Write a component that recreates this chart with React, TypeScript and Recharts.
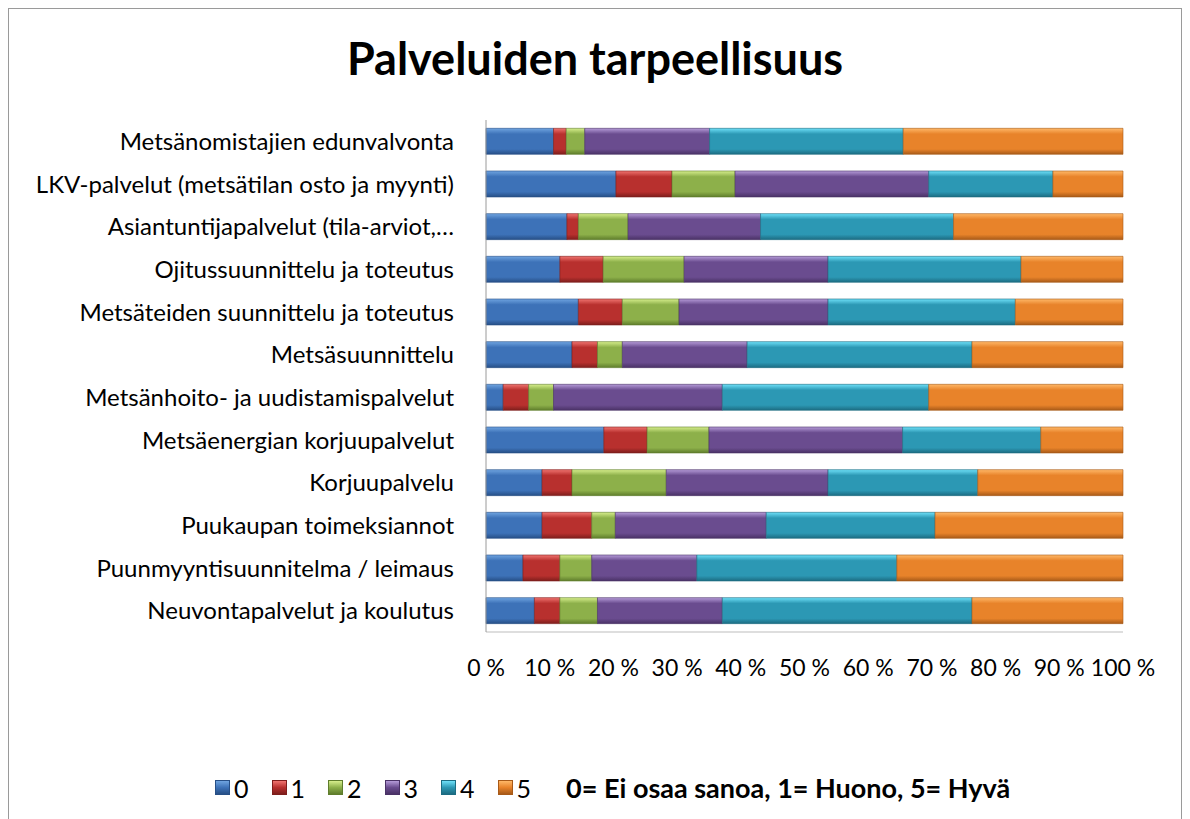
import React from "react";
import { BarChart, Bar, XAxis, YAxis } from "recharts";

// rows top to bottom
const categories = [
  "Metsänomistajien edunvalvonta",
  "LKV-palvelut (metsätilan osto ja myynti)",
  "Asiantuntijapalvelut (tila-arviot,…",
  "Ojitussuunnittelu ja toteutus",
  "Metsäteiden suunnittelu ja toteutus",
  "Metsäsuunnittelu",
  "Metsänhoito- ja uudistamispalvelut",
  "Metsäenergian korjuupalvelut",
  "Korjuupalvelu",
  "Puukaupan toimeksiannot",
  "Puunmyyntisuunnitelma / leimaus",
  "Neuvontapalvelut ja koulutus",
];

const score0 = [10.6, 20.4, 12.7, 11.6, 14.5, 13.5, 2.7, 18.5, 8.8, 8.8, 5.8, 7.6];
const score1 = [2.0, 8.8, 1.8, 6.8, 6.9, 4.0, 4.0, 6.8, 4.7, 7.8, 5.8, 4.0];
const score2 = [2.9, 9.9, 7.8, 12.7, 8.9, 3.9, 3.9, 9.7, 14.8, 3.7, 5.0, 5.9];
const score3 = [19.6, 30.4, 20.8, 22.6, 23.4, 19.6, 26.5, 30.4, 25.4, 23.7, 16.5, 19.6];
const score4 = [30.4, 19.5, 30.3, 30.3, 29.4, 35.3, 32.4, 21.7, 23.5, 26.5, 31.4, 39.2];
const score5 = [34.5, 11.0, 26.6, 16.0, 16.9, 23.7, 30.5, 12.9, 22.8, 29.5, 35.5, 23.7];

const seriesNames = ["0", "1", "2", "3", "4", "5"];
const xTicks = [0, 0.1, 0.2, 0.3, 0.4, 0.5, 0.6, 0.7, 0.8, 0.9, 1];

const palette = [
  { light: "#6FA4E0", mid: "#3D72B8", dark: "#274F86" },
  { light: "#F07470", mid: "#B8302E", dark: "#7E1E1C" },
  { light: "#D6EE8C", mid: "#8DB04A", dark: "#5F7D2C" },
  { light: "#B59BD8", mid: "#6A4C8F", dark: "#4A3266" },
  { light: "#6EE0F8", mid: "#2C98B4", dark: "#1C6C82" },
  { light: "#FFB868", mid: "#E8832A", dark: "#A85A18" },
];

const allScores = [score0, score1, score2, score3, score4, score5];

const data = categories.map((name, i) => {
  const row: Record<string, string | number> = { name };
  seriesNames.forEach((k, j) => {
    row[k] = allScores[j][i];
  });
  return row;
});

const FONT = "Lato, 'Open Sans', sans-serif";

function LegendBox() {
  return (
    <div
      style={{
        position: "absolute",
        left: 206,
        top: 762,
        display: "flex",
        alignItems: "center",
        fontFamily: FONT,
        fontSize: 25,
        color: "#000",
        whiteSpace: "nowrap",
      }}
    >
      {seriesNames.map((k, j) => (
        <div key={k} style={{ display: "flex", alignItems: "center", marginRight: 23 }}>
          <div
            style={{
              width: 13,
              height: 13,
              marginRight: 4,
              background: `linear-gradient(${palette[j].light}, ${palette[j].mid} 50%, ${palette[j].dark})`,
              border: `1px solid ${palette[j].dark}`,
            }}
          />
          <span>{k}</span>
        </div>
      ))}
      <span style={{ fontWeight: 700, fontSize: 27, marginLeft: 12 }}>
        0= Ei osaa sanoa, 1= Huono, 5= Hyvä
      </span>
    </div>
  );
}

export default function App() {
  return (
    <div
      style={{
        position: "relative",
        width: 1174,
        height: 830,
        border: "1px solid #9a9a9a",
        boxSizing: "border-box",
        background: "#fff",
      }}
    >
      <div
        style={{
          position: "absolute",
          top: 22,
          left: 0,
          width: "100%",
          textAlign: "center",
          fontFamily: FONT,
          fontWeight: 700,
          fontSize: 45,
          color: "#000",
        }}
      >
        Palveluiden tarpeellisuus
      </div>
      <BarChart
        width={1172}
        height={800}
        data={data}
        layout="vertical"
        stackOffset="expand"
        barCategoryGap="19.5%"
        margin={{ top: 111, right: 58, bottom: 147, left: 0 }}
      >
        <defs>
          {palette.map((c, j) => (
            <linearGradient key={j} id={`g${j}`} x1="0" y1="0" x2="0" y2="1">
              <stop offset="0%" stopColor={c.light} />
              <stop offset="22%" stopColor={c.mid} />
              <stop offset="80%" stopColor={c.mid} />
              <stop offset="100%" stopColor={c.dark} />
            </linearGradient>
          ))}
        </defs>
        <XAxis
          type="number"
          domain={[0, 1]}
          ticks={xTicks}
          tickFormatter={(v: number) => `${Math.round(v * 100)} %`}
          axisLine={{ stroke: "#bdbdbd" }}
          tickLine={false}
          tickMargin={22}
          tick={{ fill: "#000", fontSize: 23, fontFamily: FONT }}
          interval={0}
        />
        <YAxis
          type="category"
          dataKey="name"
          width={477}
          axisLine={{ stroke: "#9a9a9a" }}
          tickLine={false}
          tickMargin={26}
          tick={{ fill: "#000", fontSize: 24, fontFamily: FONT }}
          interval={0}
        />
        {seriesNames.map((k, j) => (
          <Bar
            key={k}
            dataKey={k}
            stackId="a"
            fill={`url(#g${j})`}
            stroke={palette[j].dark}
            strokeWidth={0.6}
            isAnimationActive={false}
          />
        ))}
      </BarChart>
      <LegendBox />
    </div>
  );
}
